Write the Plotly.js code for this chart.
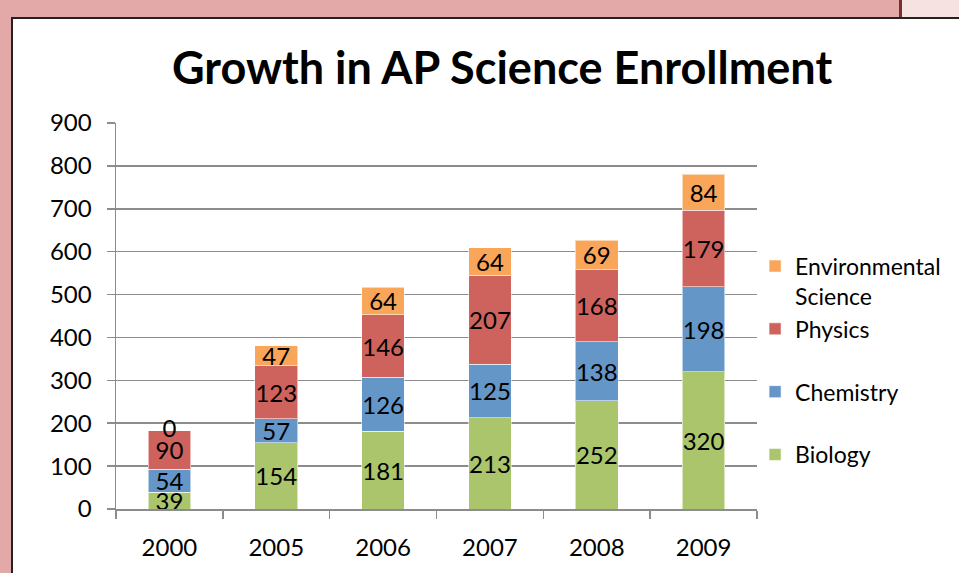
<!DOCTYPE html>
<html>
<head>
<meta charset="utf-8">
<script src="https://cdn.plot.ly/plotly-3.0.1.min.js"></script>
<style>
  html, body { margin: 0; padding: 0; }
  body { width: 959px; height: 573px; background: #e3a8a8; position: relative; overflow: hidden; }
  #tabline { position: absolute; left: 899px; top: 0; width: 3px; height: 18px; background: #7a2e2e; }
  #tab { position: absolute; left: 902px; top: 0; width: 57px; height: 18px; background: #f7e2e2; }
  #frame { position: absolute; left: 11px; top: 17px; width: 948px; height: 556px; border-left: 2px solid #222; border-top: 2px solid #222; background: #fff; box-sizing: border-box; }
  #chart { position: absolute; left: 0; top: 0; width: 946px; height: 554px; }
</style>
</head>
<body>
<div id="tabline"></div>
<div id="tab"></div>
<div id="frame"><div id="chart"></div></div>
<script>
const years = ['2000', '2005', '2006', '2007', '2008', '2009'];
const biology = [39, 154, 181, 213, 252, 320];
const chemistry = [54, 57, 126, 125, 138, 198];
const physics = [90, 123, 146, 207, 168, 179];
const environmental = [0, 47, 64, 64, 69, 84];
const yTicks = [0, 100, 200, 300, 400, 500, 600, 700, 800, 900];

const FONT = 'Lato, "Open Sans", sans-serif';
const LABEL_SIZE = 24;
const NB = '<br>\u00a0';

function series(name, values, color, rank) {
  return {
    type: 'bar',
    name: name,
    legendgroup: name,
    legendrank: rank,
    x: years,
    y: values,
    text: values.map(String),
    textposition: 'inside',
    insidetextanchor: 'middle',
    textangle: 0,
    constraintext: 'none',
    cliponaxis: false,
    textfont: { family: FONT, size: LABEL_SIZE, color: '#000' },
    marker: { color: color, line: { color: 'rgba(255,255,255,0.55)', width: 1 } },
    hoverinfo: 'x+y+name'
  };
}

// Labels for zero-height segments sit at the top of their stack
const totals = years.map((_, i) => biology[i] + chemistry[i] + physics[i] + environmental[i]);
const zeroIdx = environmental.map((v, i) => v === 0 ? i : -1).filter(i => i >= 0);

const data = [
  series('Biology' + NB, biology, '#abc56c', 4),
  series('Chemistry' + NB, chemistry, '#6496c8', 3),
  series('Physics' + NB, physics, '#ce625c', 2),
  series('Environmental<br>Science', environmental, '#f9a65a', 1),
  {
    type: 'scatter',
    mode: 'text',
    x: zeroIdx.map(i => years[i]),
    y: zeroIdx.map(i => totals[i]),
    text: zeroIdx.map(i => String(environmental[i])),
    textposition: 'middle center',
    textfont: { family: FONT, size: LABEL_SIZE, color: '#000' },
    showlegend: false,
    cliponaxis: false,
    hoverinfo: 'skip'
  }
];

const layout = {
  width: 946,
  height: 554,
  margin: { l: 103, r: 202, t: 104, b: 64 },
  paper_bgcolor: '#ffffff',
  plot_bgcolor: '#ffffff',
  barmode: 'stack',
  bargap: 0.6,
  font: { family: FONT, size: LABEL_SIZE, color: '#000' },
  uniformtext: { mode: 'show', minsize: LABEL_SIZE },
  title: {
    text: '<b>Growth in AP Science Enrollment</b>',
    font: { family: FONT, size: 45, color: '#000' },
    x: 0.517, xref: 'container', xanchor: 'center',
    y: 1, yref: 'container', yanchor: 'top', pad: { t: 33 }
  },
  xaxis: {
    type: 'category',
    tickson: 'boundaries',
    ticks: 'outside',
    ticklen: 8,
    tickwidth: 1.5,
    tickcolor: '#8c8c8c',
    showline: true,
    linecolor: '#8c8c8c',
    linewidth: 1.5,
    showgrid: false,
    ticklabelstandoff: 17,
    tickfont: { family: FONT, size: LABEL_SIZE, color: '#000' },
    fixedrange: true
  },
  yaxis: {
    range: [0, 900],
    tickvals: yTicks,
    ticktext: yTicks.map(String),
    ticks: 'outside',
    ticklen: 8,
    tickwidth: 1.5,
    tickcolor: '#8c8c8c',
    showline: true,
    linecolor: '#8c8c8c',
    linewidth: 1.5,
    showgrid: true,
    gridcolor: '#8c8c8c',
    gridwidth: 1.5,
    zeroline: false,
    ticklabelstandoff: 10,
    tickfont: { family: FONT, size: LABEL_SIZE, color: '#000' },
    fixedrange: true
  },
  showlegend: true,
  legend: {
    x: 0.997, xanchor: 'left', xref: 'paper',
    y: 0.685, yanchor: 'top', yref: 'paper',
    traceorder: 'grouped',
    tracegroupgap: 0,
    valign: 'top',
    font: { family: FONT, size: 23, color: '#000' },
    bgcolor: 'rgba(0,0,0,0)'
  }
};

Plotly.newPlot('chart', data, layout, { staticPlot: true, displayModeBar: false });
</script>
</body>
</html>
